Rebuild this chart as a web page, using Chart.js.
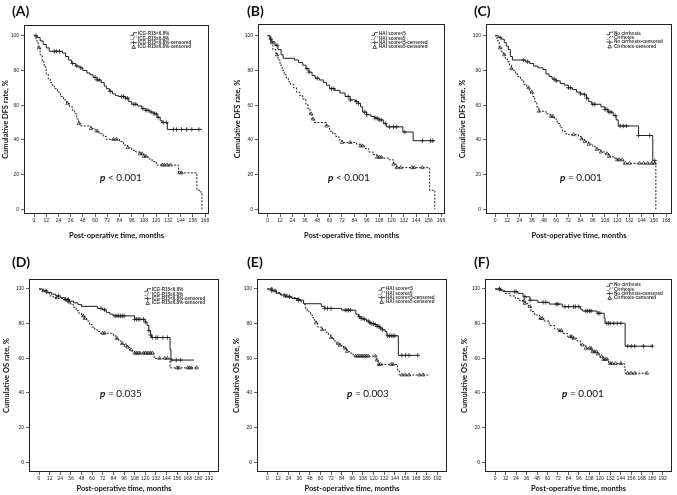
<!DOCTYPE html>
<html><head><meta charset="utf-8">
<script src="https://cdn.jsdelivr.net/npm/chart.js@4"></script>
<style>
html,body{margin:0;padding:0;background:#fff;}
#wrap{position:relative;width:677px;height:495px;overflow:hidden;background:#fff;}
#wrap canvas{position:absolute;}
.lab{position:absolute;font:bold 14px Lato,sans-serif;line-height:14px;color:#111;white-space:nowrap;}
.pv{position:absolute;font:10px Lato,sans-serif;line-height:12px;color:#111;white-space:nowrap;}
.pv i{font-weight:bold;}
</style></head><body><div id="wrap"></div>
<script>
// ---- tick labels ----
const ticksDFS = [0,12,24,36,48,60,72,84,96,108,120,132,144,156,168];
const ticksOS = [0,12,24,36,48,60,72,84,96,108,120,132,144,156,168,180,192];
const ticksY = [0,20,40,60,80,100];

// ---- legend names ----
const namesICG = ['ICG-R15<6.8%','ICG-R15\u22656.8%','ICG-R15<6.8%-censored','ICG-R15\u22656.8%-censored'];
const namesHAI = ['HAI score<5','HAI score\u22655','HAI score<5-censored','HAI score\u22655-censored'];
const namesCir = ['No cirrhosis','Cirrhosis','No cirrhosis-censored','Cirrhosis-censored'];
const panelLabels = ['(A)','(B)','(C)','(D)','(E)','(F)'];
const pValues = ['< 0.001','< 0.001','= 0.001','= 0.035','= 0.003','= 0.001'];

// ---- (A) DFS by ICG-R15 ----
const A_low_t = [0,3,6,9,12,15,28,31,34,37,41,45,48,52,55,58,62,66,69,71,74,77,80,83,90,93,96,102,106,110,114,118,121,124,126,131,165];
const A_low_s = [100,99,97,95,93,91,90,88,86,84,82.5,81.5,80,78.5,77.5,76,74.5,73,71,69.5,68,66.5,65.5,65,64,62,60.5,59.5,58,57,56,55,53,51,50,46,46];
const A_low_c = [2,20,22,25,38,42,46,60,62,64,75,86,88,90,92,98,100,107,110,112,115,118,120,122,127,130,137,140,145,150,155,162];
const A_high_t = [0,2,4,6,8,10,12,14,16,18,20,23,26,29,32,35,38,40,42,44,46,56,60,64,68,71,84,88,92,96,100,104,108,112,116,120,142,160,163,165];
const A_high_s = [100,97,93,89,85,82,78,75,73,71,69.5,67.5,65,63,61,59,57,55,52,49.5,48,46.5,45,43.5,42,40.3,39,37,35.5,34,33,32,30.5,29,27.5,25.5,21,11,10,0];
const A_high_c = [5,33,44,56,62,78,81,92,104,106,108,110,126,128,131,134,143,145];

// ---- (B) DFS by HAI score ----
const B_low_t = [0,2,4,7,10,13,15,26,30,34,37,40,43,46,50,54,57,60,65,70,75,80,85,88,90,92,96,100,104,108,112,115,131,141,162];
const B_low_s = [100,98,96.5,94.5,92,89,87,86,84.5,83,81,79,77,75.5,74.5,73,71.5,69.5,68.5,67,65,63,62,61,59,56,54.5,53.5,52.5,51.5,49.5,47.5,44.5,39.5,39.5];
const B_low_c = [3,9,38,40,48,62,64,78,80,86,88,94,96,104,106,108,110,114,118,122,125,133,150,158,160];
const B_high_t = [0,3,5,8,10,12,14,16,18,20,22,25,28,31,34,37,39,41,43,45,57,60,63,66,69,72,86,90,94,98,102,106,112,118,122,125,157,162];
const B_high_s = [100,96,92,89,86,83,80,77.5,75.5,73.5,72,70,67.5,65.5,63.5,60.5,58,55,52,50,48,45,43.5,42,40,38.5,37.5,36.5,35,33,31.5,30,29.5,28.5,26,24,11,0];
const B_high_c = [4,9,42,44,57,72,80,90,92,106,108,110,122,125,129,140,142,150];

// ---- (C) DFS by cirrhosis ----
const C_low_t = [0,3,6,9,11,13,15,17,30,34,38,42,47,50,53,56,60,64,68,72,76,80,84,88,90,92,95,104,108,111,116,119,121,141,155,157];
const C_low_s = [100,99,98,96,94,92,88,86,85,84,82.5,81.5,80.5,78,76.5,75,74,72.5,71.5,70,69,67.5,66.5,66,64,62,60.5,59,57.5,56,54,51.5,48,42.5,28,28];
const C_low_c = [5,28,32,58,60,72,74,84,88,90,96,98,108,110,112,114,118,123,126,129,141,152,157];
const C_high_t = [0,2,4,6,8,10,12,14,16,18,20,22,25,28,31,34,37,39,41,43,50,54,58,61,64,66,69,72,82,85,88,92,96,100,104,108,112,116,120,126,158];
const C_high_s = [100,97,93,91,89,87,85,83,81,80,78,76.5,74.5,72,70,67.5,65,62,59,56.5,55,53.5,52,49.5,47,45,43.5,43,42,40.5,39,37.5,36,34.5,33,32,30.5,29.5,28.5,26.5,0];
const C_high_c = [5,9,16,33,36,43,55,57,77,85,88,92,100,104,110,112,120,122,125,128,132,142,146,150,154,157];

// ---- (D) OS by ICG-R15 ----
const D_low_t = [0,4,9,14,19,24,29,34,39,44,48,66,72,76,80,84,108,120,122,124,126,127,148,149,175];
const D_low_s = [100,99,98,97,96,95,94,93,92,91,90,88.8,88,86.5,85.5,84.5,82.5,81,79,76,73.5,72,65,59,59];
const D_low_c = [8,22,30,33,70,74,86,88,90,92,94,96,108,110,112,114,118,120,124,126,128,132,134,140,145,150,155,160];
const D_high_t = [0,4,8,12,16,22,28,33,36,39,42,45,48,51,54,57,60,63,66,69,84,87,90,93,96,99,102,105,108,130,148,180];
const D_high_s = [100,99,97.5,96,95,94.5,93.5,92.5,91,89.5,87.5,86,84.5,83,81.5,79.5,78,76.5,75.5,74.5,73,71.5,70,68.5,67.5,66.5,65,64,63,60,54.5,54.5];
const D_high_c = [5,20,32,34,50,52,72,74,88,94,98,100,104,108,110,112,114,118,120,122,124,126,128,136,142,145,156,158,168,170,172,178];

// ---- (E) OS by HAI score ----
const E_low_t = [0,5,10,15,20,28,35,41,61,65,84,100,103,106,109,112,115,118,121,124,127,130,133,135,148,170];
const E_low_s = [100,99,97.5,96.5,95.5,94.5,93.5,91.5,90,88.8,87.8,85.5,84,83,82.5,81.5,80.5,80,79.5,78.5,77.5,76.5,75.5,73,61.7,61.7];
const E_low_c = [5,25,35,65,68,72,88,90,92,94,104,106,108,110,114,116,118,120,122,124,126,128,130,136,138,140,142,144,152,156,160,170];
const E_high_t = [0,6,10,14,20,26,33,38,41,43,45,47,49,51,53,55,57,62,66,69,72,75,78,82,86,90,93,97,123,125,147,149,182];
const E_high_s = [100,99,98,97,96,95,94,92.5,91,89,87.5,86.5,85,83.5,82,80.5,78,76.5,75,73.5,72,70,68.5,67.5,65.8,64,63,61.3,59,56.5,53.3,50.4,50.4];
const E_high_c = [5,9,20,22,35,55,62,72,80,82,88,90,100,102,104,106,108,110,112,114,122,124,126,128,140,142,152,156,160,172,176];

// ---- (F) OS by cirrhosis ----
const F_low_t = [0,6,9,26,32,40,49,62,77,98,100,117,125,126,149,181];
const F_low_s = [100,99.5,98.5,97.5,95.5,93.5,92.3,91.3,89.8,88.3,87.3,86,83,80.2,67,67];
const F_low_c = [5,22,24,34,40,55,58,70,72,80,84,90,92,96,104,106,108,110,118,120,128,130,132,136,140,144,152,156,160,170,180];
const F_high_t = [0,6,11,17,23,28,34,38,41,45,51,56,62,68,72,77,83,89,94,98,104,111,117,120,124,130,148,149,174];
const F_high_s = [100,99,97.5,96,94.6,93.3,91.7,89.8,87,85,83,81.5,79,77,76,74.4,72.5,71.5,70,67.7,65.8,63.8,62.5,61,59.4,57,55,51.4,51.4];
const F_high_c = [5,33,34,40,52,54,74,76,86,88,90,100,104,108,110,112,114,116,118,122,124,126,128,132,134,138,144,152,156,160,174];

// ---- layout (pixel geometry only) ----
const layout = [
 {cx:0,  cy:0,  cw:222,ch:245,L:24, R:209,T:25, B:214,x0:34,   xe:205,  y100:35.7,y0:209.3,xTitlePad:4.5,legX:138,legY:34, lab:[12,4],  pv:[100,171]},
 {cx:232,cy:0,  cw:218,ch:245,L:258,R:445,T:24, B:214,x0:267.7,xe:441,  y100:35.7,y0:209.3,xTitlePad:4.5,legX:379,legY:34, lab:[247,4], pv:[328,171]},
 {cx:457,cy:0,  cw:220,ch:245,L:486,R:676,T:24, B:214,x0:495.3,xe:669.7,y100:35.7,y0:209.3,xTitlePad:4.5,legX:614,legY:33.5,lab:[474,4], pv:[560,171]},
 {cx:1,  cy:250,cw:223,ch:245,L:29, R:219,T:279,B:472,x0:39,   xe:209,  y100:289, y0:462.3,xTitlePad:1.5,legX:152,legY:290,lab:[12,255],pv:[100,387]},
 {cx:231,cy:250,cw:221,ch:245,L:257,R:447,T:279,B:472,x0:267.3,xe:437.3,y100:289, y0:462.3,xTitlePad:1.5,legX:386,legY:289,lab:[247,255],pv:[347,387]},
 {cx:459,cy:250,cw:218,ch:245,L:485,R:675,T:279,B:472,x0:495.3,xe:665.3,y100:289, y0:462.3,xTitlePad:1.5,legX:614,legY:285,lab:[474,255],pv:[562,387]}
];

const panelData = [
 {low:[A_low_t,A_low_s,A_low_c],high:[A_high_t,A_high_s,A_high_c],names:namesICG,xt:ticksDFS,ytitle:'Cumulative DFS rate, %'},
 {low:[B_low_t,B_low_s,B_low_c],high:[B_high_t,B_high_s,B_high_c],names:namesHAI,xt:ticksDFS,ytitle:'Cumulative DFS rate, %'},
 {low:[C_low_t,C_low_s,C_low_c],high:[C_high_t,C_high_s,C_high_c],names:namesCir,xt:ticksDFS,ytitle:'Cumulative DFS rate, %'},
 {low:[D_low_t,D_low_s,D_low_c],high:[D_high_t,D_high_s,D_high_c],names:namesICG,xt:ticksOS,ytitle:'Cumulative OS rate, %'},
 {low:[E_low_t,E_low_s,E_low_c],high:[E_high_t,E_high_s,E_high_c],names:namesHAI,xt:ticksOS,ytitle:'Cumulative OS rate, %'},
 {low:[F_low_t,F_low_s,F_low_c],high:[F_high_t,F_high_s,F_high_c],names:namesCir,xt:ticksOS,ytitle:'Cumulative OS rate, %'}
];

function stepAt(t, ts, ss){ let v = ss[0]; for (let i=0;i<ts.length;i++){ if (ts[i] <= t) v = ss[i]; else break; } return v; }
function toPts(ts, ss){ return ts.map((t,i)=>({x:t, y:ss[i]})); }
function censPts(cs, ts, ss){ return cs.map(t=>({x:t, y:stepAt(t, ts, ss)})); }

const INK = '#1e1e1e';
const wrap = document.getElementById('wrap');

const framePlugin = {
  id:'frame',
  afterDatasetsDraw(chart){
    const a = chart.chartArea, ctx = chart.ctx;
    ctx.save(); ctx.strokeStyle = '#222'; ctx.lineWidth = 1;
    ctx.strokeRect(Math.round(a.left)+0.5, Math.round(a.top)+0.5, Math.round(a.right-a.left)-1, Math.round(a.bottom-a.top)-1);
    ctx.restore();
  }
};
const legendPlugin = {
  id:'kmLegend',
  afterDraw(chart, args, opts){
    const ctx = chart.ctx; const g = opts.geo; const names = opts.names;
    const x = g.legX - g.cx; ctx.save();
    ctx.font = 'bold 4.6px "Liberation Sans", Arial, sans-serif';
    ctx.textBaseline = 'middle'; ctx.fillStyle = '#333'; ctx.strokeStyle = '#222'; ctx.lineWidth = 0.8;
    for (let i=0;i<4;i++){
      const y = g.legY - g.cy + i*4.3; const sx = x - 7.5;
      ctx.beginPath(); ctx.setLineDash(i===1 ? [1,1] : []);
      if (i<2){ ctx.moveTo(sx, y+1.3); ctx.lineTo(sx+3, y+1.3); ctx.lineTo(sx+3, y-1.3); ctx.lineTo(sx+6.5, y-1.3); ctx.stroke(); }
      else if (i===2){ ctx.moveTo(sx, y); ctx.lineTo(sx+6.5, y); ctx.moveTo(sx+3.2, y-2); ctx.lineTo(sx+3.2, y+2); ctx.stroke(); }
      else { ctx.moveTo(sx+3.2, y-1.8); ctx.lineTo(sx+5, y+1.5); ctx.lineTo(sx+1.4, y+1.5); ctx.closePath(); ctx.stroke(); }
      ctx.setLineDash([]);
      ctx.fillText(names[i], x, y);
    }
    ctx.restore();
  }
};

layout.forEach((g, idx) => {
  const d = panelData[idx];
  const xEnd = d.xt[d.xt.length-1];
  const kx = (g.xe - g.x0) / xEnd;
  const xmin = -(g.x0 - g.L) / kx, xmax = xEnd + (g.R - g.xe) / kx;
  const ky = (g.y0 - g.y100) / 100;
  const ymax = 100 + (g.y100 - g.T) / ky, ymin = -(g.B - g.y0) / ky;

  const cv = document.createElement('canvas');
  cv.width = g.cw; cv.height = g.ch;
  cv.style.left = g.cx + 'px'; cv.style.top = g.cy + 'px';
  cv.style.width = g.cw + 'px'; cv.style.height = g.ch + 'px';
  wrap.appendChild(cv);

  const [lt, ls, lc] = d.low, [ht, hs, hc] = d.high;
  new Chart(cv.getContext('2d'), {
    type:'line',
    data:{ datasets:[
      {label:d.names[0], data:toPts(lt, ls), stepped:true, borderColor:INK, borderWidth:1, pointRadius:0, fill:false},
      {label:d.names[1], data:toPts(ht, hs), stepped:true, borderColor:INK, borderWidth:1, borderDash:[2,1.5], pointRadius:0, fill:false},
      {label:d.names[2], data:censPts(lc, lt, ls), showLine:false, pointStyle:'cross', pointRadius:2.2, borderColor:INK, borderWidth:0.8},
      {label:d.names[3], data:censPts(hc, ht, hs), showLine:false, pointStyle:'triangle', pointRadius:2, borderColor:INK, backgroundColor:'rgba(255,255,255,0)', borderWidth:0.7}
    ]},
    options:{
      responsive:false, animation:false, devicePixelRatio:1,
      layout:{padding:{left:0, bottom:0, top:g.T - g.cy, right:g.cx + g.cw - g.R}},
      plugins:{legend:{display:false}, tooltip:{enabled:false}, kmLegend:{geo:g, names:d.names}},
      scales:{
        x:{type:'linear', min:xmin, max:xmax,
           afterBuildTicks:s=>{ s.ticks = d.xt.map(v=>({value:v})); },
           afterFit:s=>{ s.height = g.cy + g.ch - g.B; },
           grid:{display:true, drawOnChartArea:false, drawTicks:true, tickLength:3, color:'#222', lineWidth:0.7},
           border:{display:false},
           ticks:{autoSkip:false, maxRotation:0, padding:1, color:'#222', font:{family:'"Liberation Sans", Arial, sans-serif', size:5}},
           title:{display:true, text:'Post-operative time, months', color:'#111', font:{family:'Lato, sans-serif', size:7.5, weight:'bold'}, padding:{top:0, bottom:g.xTitlePad}}
        },
        y:{type:'linear', min:ymin, max:ymax,
           afterBuildTicks:s=>{ s.ticks = ticksY.map(v=>({value:v})); },
           afterFit:s=>{ s.width = g.L - g.cx; },
           grid:{display:true, drawOnChartArea:false, drawTicks:true, tickLength:3, color:'#222', lineWidth:0.7},
           border:{display:false},
           ticks:{autoSkip:false, padding:2, color:'#222', font:{family:'"Liberation Sans", Arial, sans-serif', size:5}},
           title:{display:true, text:d.ytitle, color:'#111', font:{family:'Lato, sans-serif', size:7.5, weight:'bold'}, padding:{top:1.5, bottom:0}}
        }
      }
    },
    plugins:[framePlugin, legendPlugin]
  });

  const lab = document.createElement('div');
  lab.className = 'lab'; lab.textContent = panelLabels[idx];
  lab.style.left = g.lab[0] + 'px'; lab.style.top = g.lab[1] + 'px';
  wrap.appendChild(lab);

  const pv = document.createElement('div');
  pv.className = 'pv'; pv.innerHTML = '<i>p</i> ' + pValues[idx].replace('<','&lt;');
  pv.style.left = g.pv[0] + 'px'; pv.style.top = g.pv[1] + 'px';
  wrap.appendChild(pv);
});
</script></body></html>
